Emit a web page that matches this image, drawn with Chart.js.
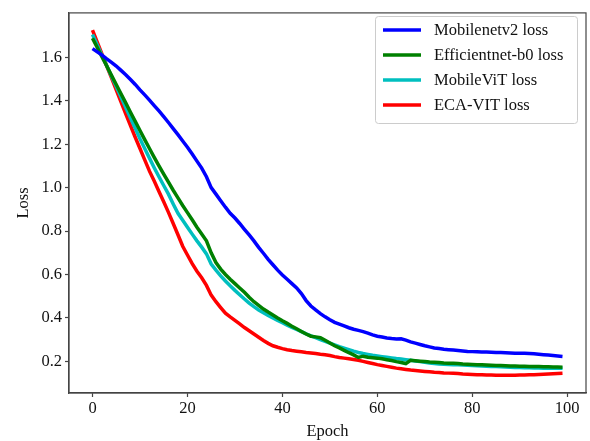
<!DOCTYPE html>
<html>
<head>
<meta charset="utf-8">
<script src="https://cdn.jsdelivr.net/npm/chart.js@4.4.0/dist/chart.umd.min.js"></script>
<style>
  html, body { margin: 0; padding: 0; background: #fff; }
  #wrap { width: 590px; height: 441px; }
</style>
</head>
<body>
<div id="wrap"><canvas id="myChart" width="590" height="441"></canvas></div>
<script>
// epochs 0..99
const epochs = [];
for (let i = 0; i < 100; i++) epochs.push(i);

const mobilenetLoss = [
  1.640, 1.625, 1.610, 1.593, 1.577, 1.560, 1.540, 1.520, 1.498, 1.475,
  1.450, 1.427, 1.403, 1.378, 1.353, 1.327, 1.300, 1.272, 1.244, 1.215,
  1.186, 1.155, 1.122, 1.090, 1.050, 1.000, 0.970, 0.940, 0.910, 0.882,
  0.860, 0.835, 0.808, 0.782, 0.755, 0.725, 0.698, 0.670, 0.645, 0.620,
  0.598, 0.578, 0.558, 0.538, 0.512, 0.480, 0.455, 0.437, 0.420, 0.405,
  0.392, 0.380, 0.372, 0.364, 0.355, 0.348, 0.343, 0.337, 0.330, 0.322,
  0.316, 0.312, 0.308, 0.305, 0.303, 0.304, 0.298, 0.290, 0.284, 0.278,
  0.272, 0.267, 0.262, 0.259, 0.256, 0.254, 0.252, 0.250, 0.248, 0.246,
  0.245, 0.244, 0.243, 0.243, 0.242, 0.241, 0.241, 0.240, 0.239, 0.238,
  0.237, 0.237, 0.236, 0.235, 0.233, 0.231, 0.229, 0.227, 0.225, 0.223
];
const efficientnetLoss = [
  1.688, 1.645, 1.602, 1.560, 1.517, 1.475, 1.432, 1.390, 1.347, 1.305,
  1.263, 1.221, 1.180, 1.139, 1.100, 1.062, 1.025, 0.988, 0.953, 0.918,
  0.885, 0.852, 0.818, 0.787, 0.755, 0.700, 0.655, 0.625, 0.600, 0.578,
  0.558, 0.538, 0.518, 0.495, 0.475, 0.458, 0.441, 0.427, 0.414, 0.400,
  0.387, 0.375, 0.362, 0.350, 0.338, 0.326, 0.316, 0.313, 0.309, 0.297,
  0.285, 0.272, 0.262, 0.251, 0.240, 0.230, 0.218, 0.224, 0.219, 0.217,
  0.215, 0.212, 0.208, 0.204, 0.199, 0.195, 0.190, 0.205, 0.203, 0.201,
  0.199, 0.197, 0.196, 0.195, 0.193, 0.192, 0.191, 0.190, 0.188, 0.187,
  0.186, 0.185, 0.184, 0.183, 0.182, 0.181, 0.181, 0.180, 0.179, 0.179,
  0.178, 0.178, 0.177, 0.177, 0.176, 0.175, 0.175, 0.174, 0.174, 0.173
];
const mobileVitLoss = [
  1.705, 1.657, 1.609, 1.561, 1.513, 1.465, 1.417, 1.369, 1.321, 1.273,
  1.225, 1.180, 1.136, 1.092, 1.050, 1.010, 0.970, 0.925, 0.882, 0.850,
  0.818, 0.786, 0.755, 0.726, 0.695, 0.648, 0.620, 0.594, 0.570, 0.548,
  0.527, 0.507, 0.487, 0.468, 0.452, 0.437, 0.424, 0.412, 0.400, 0.389,
  0.378, 0.367, 0.357, 0.347, 0.337, 0.327, 0.318, 0.309, 0.300, 0.292,
  0.284, 0.276, 0.268, 0.261, 0.254, 0.247, 0.241, 0.236, 0.232, 0.228,
  0.225, 0.222, 0.219, 0.216, 0.213, 0.211, 0.208, 0.205, 0.202, 0.199,
  0.196, 0.193, 0.190, 0.188, 0.187, 0.186, 0.185, 0.184, 0.183, 0.182,
  0.181, 0.180, 0.179, 0.178, 0.177, 0.176, 0.175, 0.174, 0.173, 0.172,
  0.172, 0.171, 0.171, 0.170, 0.170, 0.169, 0.169, 0.168, 0.168, 0.168
];
const ecaVitLoss = [
  1.725, 1.670, 1.615, 1.560, 1.505, 1.450, 1.395, 1.340, 1.286, 1.232,
  1.180, 1.128, 1.076, 1.030, 0.982, 0.935, 0.886, 0.835, 0.783, 0.730,
  0.690, 0.650, 0.615, 0.585, 0.550, 0.505, 0.475, 0.448, 0.422, 0.405,
  0.389, 0.373, 0.356, 0.341, 0.326, 0.311, 0.296, 0.283, 0.272, 0.265,
  0.259, 0.254, 0.250, 0.247, 0.244, 0.241, 0.239, 0.236, 0.233, 0.231,
  0.227, 0.222, 0.218, 0.215, 0.212, 0.209, 0.205, 0.200, 0.195, 0.190,
  0.185, 0.181, 0.177, 0.173, 0.169, 0.166, 0.163, 0.160, 0.158, 0.156,
  0.154, 0.152, 0.150, 0.149, 0.147, 0.146, 0.145, 0.144, 0.142, 0.141,
  0.140, 0.139, 0.138, 0.137, 0.137, 0.136, 0.136, 0.136, 0.136, 0.136,
  0.137, 0.137, 0.138, 0.139, 0.140, 0.141, 0.142, 0.143, 0.144, 0.145
];

const seriesNames = ["Mobilenetv2 loss", "Efficientnet-b0 loss", "MobileViT loss", "ECA-VIT loss"];
const seriesColors = ["#0000ff", "#008000", "#00bfbf", "#ff0000"];
const xTicks = [0, 20, 40, 60, 80, 100];
const yTicks = [0.2, 0.4, 0.6, 0.8, 1.0, 1.2, 1.4, 1.6];

const FONT = "'Liberation Serif', 'Times New Roman', serif";
const axisColor = "#444";

function toPoints(values) {
  return values.map((v, i) => ({ x: epochs[i], y: v }));
}

// 테두리 + 범례 (그래프 안쪽 오른쪽 위)
const frameAndLegend = {
  id: "frameAndLegend",
  afterDatasetsDraw(chart) {
    const ctx = chart.ctx;
    const a = chart.chartArea;
    ctx.save();
    ctx.strokeStyle = axisColor;
    ctx.lineWidth = 1.2;
    ctx.strokeRect(a.left, a.top, a.right - a.left, a.bottom - a.top);

    const bx = 375, by = 16, bw = 202, bh = 107;
    ctx.fillStyle = "rgba(255,255,255,0.85)";
    ctx.strokeStyle = "#cccccc";
    ctx.lineWidth = 1;
    ctx.beginPath();
    ctx.roundRect(bx + 0.5, by + 0.5, bw, bh, 3);
    ctx.fill();
    ctx.stroke();

    ctx.font = "16.5px " + FONT;
    ctx.textBaseline = "middle";
    chart.data.datasets.forEach((ds, i) => {
      const yy = by + 14 + i * 25;
      ctx.strokeStyle = ds.borderColor;
      ctx.lineWidth = 3.5;
      ctx.beginPath();
      ctx.moveTo(383, yy);
      ctx.lineTo(421, yy);
      ctx.stroke();
      ctx.fillStyle = "#111";
      ctx.fillText(ds.label, 434, yy + 1);
    });
    ctx.restore();
  }
};

const ctx = document.getElementById("myChart").getContext("2d");
const lossData = [mobilenetLoss, efficientnetLoss, mobileVitLoss, ecaVitLoss];

const myChart = new Chart(ctx, {
  type: "line",
  data: {
    datasets: lossData.map((vals, i) => ({
      label: seriesNames[i],
      data: toPoints(vals),
      borderColor: seriesColors[i],
      backgroundColor: seriesColors[i],
      borderWidth: 3.5,
      pointRadius: 0,
      tension: 0,
      fill: false
    }))
  },
  options: {
    responsive: false,
    animation: false,
    layout: { padding: { top: 8, right: 4, left: 0, bottom: 0 } },
    plugins: {
      legend: { display: false },
      tooltip: { enabled: false }
    },
    scales: {
      x: {
        type: "linear",
        min: -4.95,
        max: 103.95,
        afterBuildTicks: s => { s.ticks = xTicks.map(v => ({ value: v })); },
        afterFit: s => { s.height = 48; },
        ticks: {
          color: "#111",
          font: { family: FONT, size: 16.5 },
          padding: 2,
          maxRotation: 0,
          callback: v => String(v)
        },
        grid: { drawOnChartArea: false, tickLength: 4, color: axisColor, tickWidth: 1.2 },
        border: { color: axisColor, width: 1.2 },
        title: {
          display: true,
          text: "Epoch",
          color: "#111",
          font: { family: FONT, size: 16.5, lineHeight: 1.1 },
          padding: { top: 0, bottom: 0 }
        }
      },
      y: {
        min: 0.0545,
        max: 1.8045,
        afterBuildTicks: s => { s.ticks = yTicks.map(v => ({ value: v })); },
        afterFit: s => { s.width = 69; },
        ticks: {
          color: "#111",
          font: { family: FONT, size: 16.5 },
          padding: 3,
          callback: v => v.toFixed(1)
        },
        grid: { drawOnChartArea: false, tickLength: 4, color: axisColor, tickWidth: 1.2 },
        border: { color: axisColor, width: 1.2 },
        title: {
          display: true,
          text: "Loss",
          color: "#111",
          font: { family: FONT, size: 16.5, lineHeight: 1.1 },
          padding: { top: 15, bottom: 0 }
        }
      }
    }
  },
  plugins: [frameAndLegend]
});
</script>
</body>
</html>
